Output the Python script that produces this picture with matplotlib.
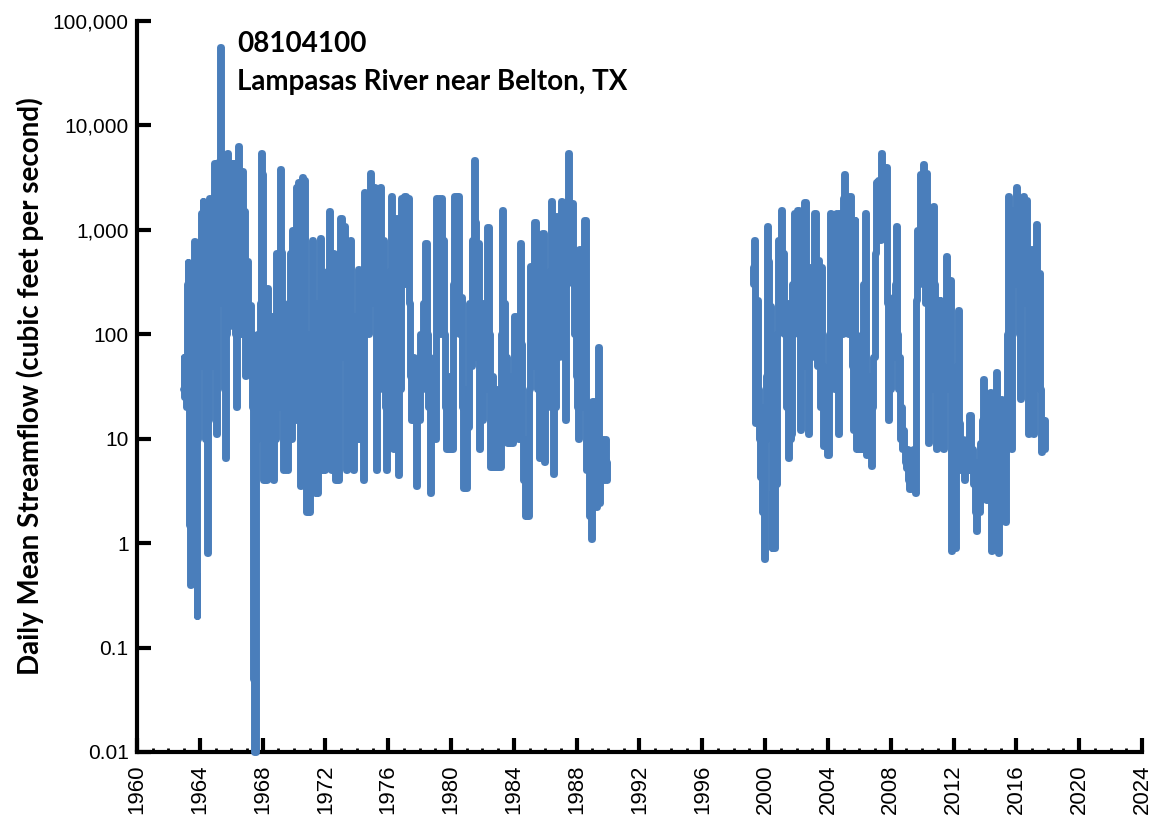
import matplotlib
matplotlib.use("Agg")
import matplotlib.pyplot as plt
from matplotlib.ticker import FixedLocator, MultipleLocator, NullLocator

# daily mean streamflow, 08104100
years_early = [
    1962.95, 1963.00, 1963.05, 1963.10, 1963.16, 1963.22, 1963.26, 1963.30, 1963.35, 1963.40,
    1963.45, 1963.50, 1963.55, 1963.60, 1963.66, 1963.72, 1963.77, 1963.82, 1963.88, 1963.95,
    1964.00, 1964.05, 1964.10, 1964.15, 1964.20, 1964.25, 1964.30, 1964.35, 1964.42, 1964.50,
    1964.55, 1964.62, 1964.70, 1964.75, 1964.80, 1964.86, 1964.92, 1965.00, 1965.08, 1965.15,
    1965.22, 1965.30, 1965.36, 1965.42, 1965.48, 1965.55, 1965.62, 1965.68, 1965.75, 1965.82,
    1965.88, 1965.95, 1966.02, 1966.10, 1966.18, 1966.25, 1966.32, 1966.40, 1966.48, 1966.56,
    1966.62, 1966.70, 1966.78, 1966.85, 1966.92, 1967.00, 1967.08, 1967.15, 1967.22, 1967.30,
    1967.38, 1967.44, 1967.50, 1967.56, 1967.62, 1967.70, 1967.78, 1967.86, 1967.94, 1968.02,
    1968.08, 1968.15, 1968.22, 1968.30, 1968.38, 1968.45, 1968.52, 1968.60, 1968.68, 1968.76,
    1968.84, 1968.92, 1969.00, 1969.08, 1969.15, 1969.22, 1969.30, 1969.36, 1969.42, 1969.50,
    1969.56, 1969.62, 1969.70, 1969.78, 1969.85, 1969.92, 1970.00, 1970.08, 1970.14, 1970.22,
    1970.30, 1970.38, 1970.44, 1970.50, 1970.56, 1970.64, 1970.70, 1970.76, 1970.82, 1970.90,
    1970.98, 1971.04, 1971.10, 1971.16, 1971.22, 1971.28, 1971.34, 1971.40, 1971.46, 1971.52,
    1971.58, 1971.64, 1971.70, 1971.78, 1971.84, 1971.90, 1971.96, 1972.02, 1972.08, 1972.14,
    1972.20, 1972.27, 1972.34, 1972.40, 1972.46, 1972.52, 1972.58, 1972.64, 1972.70, 1972.76,
    1972.80, 1972.88, 1973.00, 1973.08, 1973.16, 1973.25, 1973.30, 1973.35, 1973.42, 1973.50,
    1973.57, 1973.64, 1973.70, 1973.78, 1973.86, 1973.94, 1974.02, 1974.10, 1974.18, 1974.26,
    1974.34, 1974.40, 1974.50, 1974.58, 1974.66, 1974.72, 1974.78, 1974.84, 1974.92, 1975.00,
    1975.08, 1975.15, 1975.20, 1975.26, 1975.32, 1975.40, 1975.50, 1975.56, 1975.62, 1975.70,
    1975.76, 1975.82, 1975.90, 1975.98, 1976.06, 1976.14, 1976.20, 1976.27, 1976.33, 1976.40,
    1976.47, 1976.54, 1976.60, 1976.65, 1976.72, 1976.80, 1976.86, 1976.92, 1977.00, 1977.07,
    1977.14, 1977.20, 1977.28, 1977.36, 1977.43, 1977.50, 1977.58, 1977.65, 1977.72, 1977.80,
    1977.88, 1977.95, 1978.05, 1978.15, 1978.25, 1978.33, 1978.40, 1978.48, 1978.55, 1978.62,
    1978.70, 1978.78, 1978.90, 1979.00, 1979.10, 1979.18, 1979.26, 1979.34, 1979.40, 1979.50,
    1979.56, 1979.62, 1979.70, 1979.80, 1979.90, 1980.00, 1980.10, 1980.18, 1980.25, 1980.32,
    1980.38, 1980.45, 1980.55, 1980.65, 1980.72, 1980.80, 1980.90, 1981.00, 1981.06, 1981.12,
    1981.20, 1981.30, 1981.40, 1981.47, 1981.55, 1981.62, 1981.70, 1981.75, 1981.82, 1981.90,
    1982.00, 1982.08, 1982.16, 1982.24, 1982.36, 1982.44, 1982.50, 1982.60, 1982.70, 1982.80,
    1982.90, 1983.00, 1983.10, 1983.20, 1983.30, 1983.38, 1983.44, 1983.50, 1983.58, 1983.68,
    1983.78, 1983.90, 1984.00, 1984.08, 1984.16, 1984.24, 1984.32, 1984.40, 1984.48, 1984.56,
    1984.64, 1984.72, 1984.82, 1984.90, 1985.00, 1985.10, 1985.18, 1985.26, 1985.35, 1985.42,
    1985.50, 1985.58, 1985.65, 1985.74, 1985.86, 1985.95, 1986.04, 1986.12, 1986.20, 1986.28,
    1986.34, 1986.40, 1986.46, 1986.50, 1986.58, 1986.64, 1986.70, 1986.78, 1986.86, 1986.94,
    1987.00, 1987.05, 1987.12, 1987.20, 1987.26, 1987.34, 1987.40, 1987.47, 1987.54, 1987.62,
    1987.70, 1987.78, 1987.85, 1987.90, 1987.98, 1988.05, 1988.10, 1988.20, 1988.28, 1988.36,
    1988.44, 1988.53, 1988.60, 1988.64, 1988.72, 1988.80, 1988.88, 1988.95, 1989.05, 1989.12,
    1989.18, 1989.25, 1989.32, 1989.37, 1989.42, 1989.47, 1989.54, 1989.58, 1989.66, 1989.74,
    1989.80, 1989.86, 1989.90, 1989.95,
]
flow_early = [
    30, 60, 25, 45, 20, 300, 490, 40, 1.5, 0.4,
    3, 15, 150, 200, 780, 30, 0.5, 0.2, 10, 100,
    400, 50, 1450, 300, 1900, 60, 200, 10, 20, 0.8,
    15, 2000, 400, 50, 1200, 400, 4400, 300, 11, 200,
    4500, 56000, 4500, 800, 200, 30, 6.6, 100, 5500, 2000,
    120, 500, 4400, 300, 4400, 100, 20, 1500, 6300, 400,
    100, 3700, 200, 1500, 40, 500, 100, 60, 190, 100,
    20, 0.05, 0.01, 0.01, 10, 100, 30, 200, 5400, 3400,
    4, 200, 4, 280, 8, 100, 10, 150, 4, 80,
    10, 600, 20, 200, 3800, 620, 60, 5, 100, 30,
    5, 200, 40, 600, 10, 1000, 100, 15, 2600, 300,
    2900, 100, 3.5, 50, 3200, 3000, 200, 10, 2, 20,
    2, 100, 10, 800, 100, 8, 3, 200, 10, 3,
    100, 5, 830, 60, 5, 300, 5, 150, 10, 400,
    30, 1500, 200, 5, 100, 600, 20, 4, 300, 40,
    4, 200, 1300, 300, 60, 1100, 100, 5, 150, 20,
    800, 100, 20, 5, 150, 30, 10, 420, 60, 10,
    100, 4, 2300, 600, 1000, 100, 2000, 3500, 1000, 200,
    1200, 2600, 300, 5, 100, 30, 2600, 400, 40, 800,
    100, 20, 5, 200, 30, 400, 2100, 200, 8, 100,
    20, 1300, 100, 4.5, 200, 30, 2000, 300, 600, 2100,
    300, 800, 2000, 200, 40, 15, 60, 15, 30, 3.5,
    40, 15, 100, 30, 200, 50, 750, 100, 20, 60,
    3.0, 15, 53, 10, 2000, 300, 1000, 100, 2000, 800,
    100, 20, 8, 40, 8, 30, 8, 300, 2100, 600,
    200, 2100, 100, 230, 20, 3.4, 10, 3.4, 30, 13,
    200, 50, 800, 4700, 1200, 200, 60, 750, 8, 60,
    15, 200, 30, 100, 1070, 100, 5.4, 40, 5.4, 20,
    5.4, 30, 5.4, 100, 1550, 200, 30, 60, 9, 40,
    9, 9, 12, 150, 20, 60, 10, 750, 80, 10,
    4, 1.8, 10, 1.8, 30, 450, 50, 200, 1200, 200,
    30, 100, 6.5, 60, 930, 6, 100, 20, 300, 40,
    400, 1900, 100, 4.6, 80, 20, 1350, 200, 60, 300,
    500, 1900, 300, 60, 15, 300, 1500, 5500, 1500, 400,
    1800, 300, 100, 420, 40, 20, 10, 650, 100, 20,
    300, 1250, 40, 5, 10, 1.8, 5, 1.1, 23, 5,
    15, 2.2, 10, 76, 10, 2.4, 6, 10, 4, 8,
    6, 10, 4, 6,
]

years_late = [
    1999.22, 1999.26, 1999.30, 1999.36, 1999.40, 1999.46, 1999.52, 1999.58, 1999.64, 1999.70,
    1999.78, 1999.86, 1999.94, 2000.00, 2000.06, 2000.14, 2000.20, 2000.26, 2000.32, 2000.38,
    2000.44, 2000.50, 2000.58, 2000.66, 2000.74, 2000.80, 2000.85, 2000.92, 2001.00, 2001.06,
    2001.12, 2001.20, 2001.27, 2001.34, 2001.42, 2001.50, 2001.56, 2001.62, 2001.70, 2001.76,
    2001.84, 2001.90, 2001.96, 2002.02, 2002.10, 2002.16, 2002.23, 2002.30, 2002.38, 2002.46,
    2002.55, 2002.62, 2002.70, 2002.76, 2002.82, 2002.87, 2002.94, 2003.02, 2003.10, 2003.18,
    2003.24, 2003.32, 2003.40, 2003.46, 2003.54, 2003.60, 2003.66, 2003.70, 2003.80, 2003.90,
    2004.03, 2004.08, 2004.14, 2004.20, 2004.28, 2004.36, 2004.42, 2004.50, 2004.56, 2004.62,
    2004.67, 2004.72, 2004.77, 2004.84, 2004.90, 2004.96, 2005.03, 2005.10, 2005.18, 2005.26,
    2005.32, 2005.40, 2005.48, 2005.56, 2005.62, 2005.68, 2005.73, 2005.78, 2005.83, 2005.90,
    2005.98, 2006.06, 2006.15, 2006.22, 2006.30, 2006.37, 2006.42, 2006.47, 2006.55, 2006.62,
    2006.70, 2006.79, 2006.86, 2006.94, 2007.00, 2007.06, 2007.10, 2007.18, 2007.26, 2007.34,
    2007.43, 2007.50, 2007.58, 2007.66, 2007.75, 2007.80, 2007.85, 2007.92, 2008.00, 2008.08,
    2008.17, 2008.24, 2008.30, 2008.38, 2008.44, 2008.50, 2008.56, 2008.60, 2008.68, 2008.74,
    2008.80, 2008.88, 2008.94, 2009.00, 2009.08, 2009.16, 2009.23, 2009.30, 2009.38, 2009.44,
    2009.50, 2009.55, 2009.62, 2009.65, 2009.72, 2009.80, 2009.87, 2009.94, 2010.02, 2010.08,
    2010.16, 2010.22, 2010.30, 2010.35, 2010.40, 2010.48, 2010.56, 2010.64, 2010.72, 2010.78,
    2010.86, 2010.93, 2011.00, 2011.08, 2011.14, 2011.20, 2011.28, 2011.36, 2011.44, 2011.50,
    2011.57, 2011.64, 2011.72, 2011.78, 2011.84, 2011.89, 2011.96, 2012.04, 2012.10, 2012.16,
    2012.22, 2012.30, 2012.36, 2012.40, 2012.48, 2012.56, 2012.63, 2012.70, 2012.78, 2012.84,
    2012.92, 2012.98, 2013.05, 2013.12, 2013.20, 2013.27, 2013.34, 2013.40, 2013.48, 2013.56,
    2013.62, 2013.70, 2013.78, 2013.84, 2013.90, 2013.96, 2014.04, 2014.12, 2014.18, 2014.26,
    2014.33, 2014.38, 2014.44, 2014.52, 2014.60, 2014.68, 2014.76, 2014.80, 2014.86, 2014.92,
    2015.00, 2015.07, 2015.14, 2015.22, 2015.29, 2015.36, 2015.42, 2015.50, 2015.56, 2015.62,
    2015.70, 2015.76, 2015.80, 2015.88, 2015.96, 2016.03, 2016.10, 2016.18, 2016.24, 2016.30,
    2016.38, 2016.45, 2016.52, 2016.58, 2016.66, 2016.72, 2016.77, 2016.84, 2016.90, 2016.98,
    2017.04, 2017.08, 2017.14, 2017.22, 2017.30, 2017.36, 2017.44, 2017.50, 2017.56, 2017.60,
    2017.68, 2017.76, 2017.83,
]
flow_late = [
    440, 300, 800, 100, 14, 60, 215, 30, 10, 4.3,
    20, 2, 0.7, 10, 40, 1100, 500, 50, 185, 20,
    0.9, 3, 0.9, 10, 3.7, 100, 800, 200, 600, 1550,
    300, 600, 100, 20, 200, 6.6, 50, 10, 11, 300,
    100, 1450, 200, 800, 1550, 100, 12, 300, 50, 600,
    1850, 300, 60, 11, 100, 440, 60, 300, 100, 1450,
    200, 50, 510, 100, 20, 440, 50, 8.5, 30, 10,
    7, 100, 1450, 300, 1000, 100, 30, 400, 1450, 100,
    11, 200, 1450, 500, 100, 2000, 3400, 1500, 300, 800,
    100, 2100, 300, 50, 12, 100, 1250, 100, 8, 30,
    8, 20, 8, 100, 300, 1450, 100, 7, 40, 10,
    15, 5.5, 20, 60, 160, 600, 2900, 1000, 3000, 800,
    5400, 3000, 1000, 4000, 4000, 200, 15, 60, 30, 100,
    230, 60, 300, 1100, 100, 30, 60, 10, 20, 8,
    12, 8, 6, 5.3, 8, 4, 3.3, 6, 4, 8,
    4, 3, 20, 215, 1000, 300, 3400, 1500, 400, 4300,
    800, 200, 3500, 200, 9, 100, 30, 500, 1700, 300,
    40, 8, 30, 10, 215, 30, 10, 8, 50, 200,
    560, 100, 30, 330, 5, 0.85, 5, 3, 0.9, 10,
    50, 170, 30, 14, 5, 10, 8, 4, 9, 5.3,
    10, 5, 17, 5, 8, 3.7, 6, 2, 1.3, 5,
    2, 9, 3, 15, 37, 5, 10, 2.6, 8, 3,
    28, 4, 0.85, 8, 2, 10, 44, 5, 0.8, 5,
    2, 24, 4, 10, 1.6, 10, 100, 2100, 300, 30,
    8, 300, 1550, 300, 800, 2600, 300, 100, 24, 200,
    800, 2100, 300, 1000, 1950, 200, 11, 60, 200, 650,
    60, 11, 100, 300, 1150, 200, 60, 390, 30, 7.5,
    15, 8, 15,
]

assert len(years_early) == len(flow_early)
assert len(years_late) == len(flow_late)

x_ticks = list(range(1960, 2025, 4))
y_ticks = [0.01, 0.1, 1, 10, 100, 1000, 10000, 100000]
y_tick_labels = ["0.01", "0.1", "1", "10", "100", "1,000", "10,000", "100,000"]

line_color = "#4a7ebb"

fig = plt.figure(figsize=(11.59, 8.24), dpi=100)
ax = fig.add_axes([0.1182, 0.0874, 0.8671, 0.8871])

for xs, ys in [(years_early, flow_early), (years_late, flow_late)]:
    ax.plot(xs, ys, color=line_color, linewidth=5, drawstyle="steps-mid",
            solid_capstyle="round", solid_joinstyle="round", clip_on=False, zorder=3)

ax.set_yscale("log")
ax.set_xlim(1960, 2024)
ax.set_ylim(0.01, 100000)

ax.yaxis.set_major_locator(FixedLocator(y_ticks))
ax.yaxis.set_minor_locator(NullLocator())
ax.set_yticklabels(y_tick_labels)
ax.xaxis.set_major_locator(FixedLocator(x_ticks))
ax.xaxis.set_minor_locator(MultipleLocator(1))
ax.set_xticklabels([str(y) for y in x_ticks], rotation=90)

for side in ["top", "right"]:
    ax.spines[side].set_visible(False)
for side in ["left", "bottom"]:
    ax.spines[side].set_linewidth(3)
    ax.spines[side].set_color("black")

ax.tick_params(axis="both", which="major", direction="in", length=10, width=3,
               labelsize=15, pad=6)
ax.tick_params(axis="x", which="major", labelsize=16, pad=9)
ax.tick_params(axis="x", which="minor", direction="in", length=3, width=2)
for lbl in ax.get_xticklabels() + ax.get_yticklabels():
    lbl.set_fontfamily("Liberation Sans")

ax.set_ylabel("Daily Mean Streamflow (cubic feet per second)", fontsize=20,
              fontweight="bold", family="Lato", labelpad=6)

fig.text(0.2045, 0.9466, "08104100", fontsize=20, fontweight="bold",
         family="Lato", va="center", ha="left")
fig.text(0.2045, 0.9005, "Lampasas River near Belton, TX", fontsize=20,
         fontweight="bold", family="Lato", va="center", ha="left")

fig.savefig("out.png", dpi=100)
